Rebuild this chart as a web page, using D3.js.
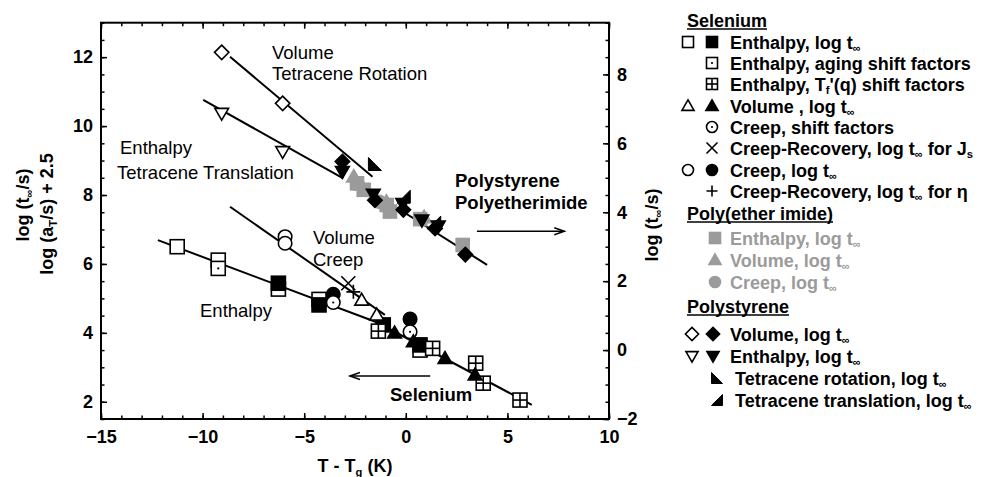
<!DOCTYPE html>
<html><head><meta charset="utf-8">
<script src="https://cdn.jsdelivr.net/npm/d3@7"></script>
<style>
body{margin:0;background:#fff}
svg{display:block}
text{font-family:"Liberation Sans",Arial,Helvetica,sans-serif}
</style>
</head><body>
<svg id="c" width="984" height="477"></svg>
<script>
// ---------- axes / ticks ----------
const xDomain = [-15, 10];
const yLeftDomain = [1.5, 13];
const yRightDomain = [-2, 9.5];
const xTicksMajor = [-15, -10, -5, 0, 5, 10];
const yLeftTicks = [2, 4, 6, 8, 10, 12];
const yRightTicks = [-2, 0, 2, 4, 6, 8];

// ---------- Selenium (left axis) ----------
const seEnthalpyOpen   = [[-11.25, 6.50], [-9.23, 6.11]];
const seEnthalpyAging  = [[-9.23, 5.87], [-6.27, 5.27], [-4.27, 4.97], [0.70, 3.50]];
const seEnthalpyFilled = [[-6.27, 5.44], [-4.27, 4.81], [-1.11, 4.23], [0.70, 3.65]];
const seEnthalpyTf     = [[-1.35, 4.05], [1.32, 3.55], [3.44, 3.12], [3.81, 2.54], [5.62, 2.05]];
const seVolumeOpen     = [[-2.17, 4.95], [-1.43, 4.52]];
const seVolumeFilled   = [[-0.55, 4.00], [0.37, 3.74], [1.93, 3.26], [3.41, 2.78]];
const seCreepShift     = [[-3.57, 4.88], [0.21, 4.03]];
const seCreepRecJ      = [[-2.83, 5.44]];
const seCreepOpen      = [[-5.94, 6.79], [-5.94, 6.60]];
const seCreepFilled    = [[-3.57, 5.12], [0.21, 4.40]];
const seCreepRecEta    = [[-2.58, 5.19]];
const seEnthalpyFit    = [[-12.2, 6.69], [-1.4, 4.30], [6.2, 1.91]];
const seVolumeCreepFit = [[-8.65, 7.66], [-1.03, 4.52]];

// ---------- Polystyrene / PEI (right axis) ----------
const psVolumeOpen     = [[-9.06, 8.64], [-6.06, 7.16]];
const psEnthalpyOpen   = [[-9.06, 6.87], [-6.06, 5.76]];
const peiEnthalpy      = [[-2.40, 4.84], [-2.07, 4.65], [-0.94, 4.21], [-0.78, 4.02], [0.71, 3.80], [2.80, 3.05]];
const peiVolume        = [[-2.56, 5.03], [-2.20, 4.80], [-0.95, 4.30], [0.90, 3.85]];
const peiCreep         = [[-1.30, 4.30]];
const psVolumeFilled   = [[-3.12, 5.47], [-1.52, 4.35], [-0.12, 4.07], [1.44, 3.53], [2.93, 2.77]];
const psEnthalpyFilled = [[-3.12, 5.18], [-1.60, 4.52], [-0.15, 4.25], [0.79, 3.77], [1.60, 3.60]];
const psRotation       = [[-1.52, 5.40]];
const psTranslation    = [[-0.10, 4.45], [1.40, 3.70]];
const psRotFit         = [[-8.65, 8.51], [-1.64, 5.03]];
const psTransFit       = [[-9.97, 7.26], [-3.08, 4.98]];
const psMainFit        = [[-2.50, 4.90], [4.00, 2.47]];

// arrows: [x0, x1, y]
const arrowRight = [3.5, 7.8, 3.45];   // right axis
const arrowLeft  = [1.2, -2.75, 2.75]; // left axis

const GRAY = "#9b9b9b";
const svg = d3.select("#c");
const M = {l: 101, r: 609, t: 22.7, b: 419};
const x = d3.scaleLinear().domain(xDomain).range([M.l, M.r]);
const yL = d3.scaleLinear().domain(yLeftDomain).range([M.b, M.t]);
const yR = d3.scaleLinear().domain(yRightDomain).range([M.b, M.t]);

// ---------- axes ----------
function styleAxis(g){ g.select(".domain").remove(); g.selectAll("line").attr("stroke","#000").attr("stroke-width",1.5);
  g.selectAll("text").attr("font-size",18).attr("font-weight","bold").attr("fill","#000").style("font-family",'"Liberation Sans",Arial,sans-serif'); }
const xMinor = d3.range(-15, 10.01, 1);
const yLMinor = d3.range(1.5, 13.01, 0.5);
const yRMinor = d3.range(-2, 9.51, 0.5);

svg.append("g").attr("transform",`translate(0,${M.b})`).call(d3.axisBottom(x).tickValues(xMinor).tickSize(-3.5).tickFormat("")).call(styleAxis);
svg.append("g").attr("transform",`translate(0,${M.b})`).call(d3.axisBottom(x).tickValues(xTicksMajor).tickSize(-6).tickPadding(11).tickFormat(d3.format("d"))).call(styleAxis);
svg.append("g").attr("transform",`translate(0,${M.t})`).call(d3.axisTop(x).tickValues(xMinor).tickSize(-3.5).tickFormat("")).call(styleAxis);
svg.append("g").attr("transform",`translate(0,${M.t})`).call(d3.axisTop(x).tickValues(xTicksMajor).tickSize(-6).tickFormat("")).call(styleAxis);
svg.append("g").attr("transform",`translate(${M.l},0)`).call(d3.axisLeft(yL).tickValues(yLMinor).tickSize(-3.5).tickFormat("")).call(styleAxis);
svg.append("g").attr("transform",`translate(${M.l},0)`).call(d3.axisLeft(yL).tickValues(yLeftTicks).tickSize(-6).tickPadding(8).tickFormat(d3.format("d"))).call(styleAxis);
svg.append("g").attr("transform",`translate(${M.r},0)`).call(d3.axisRight(yR).tickValues(yRMinor).tickSize(-3.5).tickFormat("")).call(styleAxis);
svg.append("g").attr("transform",`translate(${M.r},0)`).call(d3.axisRight(yR).tickValues(yRightTicks).tickSize(-6).tickPadding(8).tickFormat(d3.format("d"))).call(styleAxis);

svg.append("rect").attr("x",M.l).attr("y",M.t).attr("width",M.r-M.l).attr("height",M.b-M.t)
  .attr("fill","none").attr("stroke","#000").attr("stroke-width",2);

// ---------- rich text helper ----------
function rich(t, parts, fs){
  parts.forEach(p=>{
    const s = typeof p === "string" ? {t:p} : p;
    const ts = t.append("tspan").text(s.t);
    if (s.sub){ ts.attr("font-size", fs*0.62).attr("dy", fs*0.22); }
    if (s.back){ ts.attr("dy", -fs*0.22); }
  });
  return t;
}

// ---------- symbols ----------
function sym(g, type, cx, cy, s, color, filled){
  const sw = 1.6, h = s/2;
  const fill = filled ? color : "#fff";
  switch(type){
    case "square": case "dotSquare": case "gridSquare":
      g.append("rect").attr("x",cx-h).attr("y",cy-h).attr("width",s).attr("height",s)
        .attr("fill",fill).attr("stroke",color).attr("stroke-width",sw);
      if (type==="dotSquare") g.append("circle").attr("cx",cx).attr("cy",cy).attr("r",1.1).attr("fill",color);
      if (type==="gridSquare"){
        g.append("line").attr("x1",cx).attr("x2",cx).attr("y1",cy-h).attr("y2",cy+h).attr("stroke",color).attr("stroke-width",sw);
        g.append("line").attr("x1",cx-h).attr("x2",cx+h).attr("y1",cy).attr("y2",cy).attr("stroke",color).attr("stroke-width",sw);
      }
      break;
    case "circle": case "dotCircle":
      g.append("circle").attr("cx",cx).attr("cy",cy).attr("r",h).attr("fill",fill).attr("stroke",color).attr("stroke-width",sw);
      if (type==="dotCircle") g.append("circle").attr("cx",cx).attr("cy",cy).attr("r",1.1).attr("fill",color);
      break;
    case "triUp":
      g.append("polygon").attr("points",[[cx,cy-h*1.1],[cx-h*1.1,cy+h*0.8],[cx+h*1.1,cy+h*0.8]].join(" "))
        .attr("fill",fill).attr("stroke",color).attr("stroke-width",sw).attr("stroke-linejoin","miter");
      break;
    case "triDown":
      g.append("polygon").attr("points",[[cx,cy+h*1.1],[cx-h*1.1,cy-h*0.8],[cx+h*1.1,cy-h*0.8]].join(" "))
        .attr("fill",fill).attr("stroke",color).attr("stroke-width",sw);
      break;
    case "diamond":
      g.append("polygon").attr("points",[[cx,cy-h*1.2],[cx+h*1.2,cy],[cx,cy+h*1.2],[cx-h*1.2,cy]].join(" "))
        .attr("fill",fill).attr("stroke",color).attr("stroke-width",sw);
      break;
    case "rot":
      g.append("polygon").attr("points",[[cx-h,cy-h],[cx-h,cy+h],[cx+h,cy+h]].join(" ")).attr("fill",color).attr("stroke",color).attr("stroke-width",1);
      break;
    case "trans":
      g.append("polygon").attr("points",[[cx+h,cy-h],[cx+h,cy+h],[cx-h,cy+h]].join(" ")).attr("fill",color).attr("stroke",color).attr("stroke-width",1);
      break;
    case "x":
      g.append("path").attr("d",`M${cx-h},${cy-h}L${cx+h},${cy+h}M${cx+h},${cy-h}L${cx-h},${cy+h}`).attr("stroke",color).attr("stroke-width",1.6).attr("fill","none");
      break;
    case "plus":
      g.append("path").attr("d",`M${cx-h},${cy}L${cx+h},${cy}M${cx},${cy-h}L${cx},${cy+h}`).attr("stroke",color).attr("stroke-width",1.6).attr("fill","none");
      break;
  }
}

// ---------- fit lines ----------
const plot = svg.append("g");
const lineL = d3.line().x(d=>x(d[0])).y(d=>yL(d[1]));
const lineR = d3.line().x(d=>x(d[0])).y(d=>yR(d[1]));
[seEnthalpyFit, seVolumeCreepFit].forEach(d=>plot.append("path").attr("d",lineL(d)).attr("fill","none").attr("stroke","#000").attr("stroke-width",2));
[psRotFit, psTransFit, psMainFit].forEach(d=>plot.append("path").attr("d",lineR(d)).attr("fill","none").attr("stroke","#000").attr("stroke-width",2));

// ---------- markers ----------
function series(data, ys, type, size, color, filled){
  data.forEach(d=>sym(plot, type, x(d[0]), ys(d[1]), size, color, filled));
}
// Polystyrene / PEI
series(psVolumeOpen, yR, "diamond", 12, "#000", false);
series(psEnthalpyOpen, yR, "triDown", 12.5, "#000", false);
series(peiEnthalpy, yR, "square", 13, GRAY, true);
series(peiVolume, yR, "triUp", 13, GRAY, true);
series(peiCreep, yR, "circle", 13, GRAY, true);
series(psEnthalpyFilled, yR, "triDown", 12.5, "#000", true);
series(psVolumeFilled, yR, "diamond", 12, "#000", true);
series(psTranslation, yR, "trans", 13, "#000", true);
series(psRotation, yR, "rot", 13, "#000", true);
// Selenium
series(seEnthalpyOpen, yL, "square", 14, "#000", false);
series(seEnthalpyAging, yL, "dotSquare", 14, "#000", false);
series(seEnthalpyFilled, yL, "square", 14, "#000", true);
series(seEnthalpyTf, yL, "gridSquare", 14, "#000", false);
series(seCreepOpen, yL, "circle", 13.5, "#000", false);
series(seCreepFilled, yL, "circle", 13.5, "#000", true);
series(seCreepShift, yL, "dotCircle", 13.5, "#000", false);
series(seVolumeOpen, yL, "triUp", 12.5, "#000", false);
series(seVolumeFilled, yL, "triUp", 12.5, "#000", true);
series(seCreepRecJ, yL, "x", 14, "#000", false);
series(seCreepRecEta, yL, "plus", 14, "#000", false);

// ---------- arrows ----------
function arrow(x0, x1, py){
  const dir = Math.sign(x1-x0);
  plot.append("line").attr("x1",x0).attr("x2",x1).attr("y1",py).attr("y2",py).attr("stroke","#000").attr("stroke-width",1.5);
  plot.append("path").attr("d",`M${x1-dir*10},${py-3.5}L${x1},${py}L${x1-dir*10},${py+3.5}`).attr("fill","none").attr("stroke","#000").attr("stroke-width",1.5);
}
arrow(x(arrowRight[0]), x(arrowRight[1]), yR(arrowRight[2]));
arrow(x(arrowLeft[0]), x(arrowLeft[1]), yL(arrowLeft[2]));

// ---------- annotations ----------
const ann = [
  {t:"Volume", x:272, y:59}, {t:"Tetracene Rotation", x:272, y:80},
  {t:"Enthalpy", x:120, y:154}, {t:"Tetracene Translation", x:117, y:179},
  {t:"Volume", x:313, y:244}, {t:"Creep", x:313, y:266},
  {t:"Enthalpy", x:200, y:317},
  {t:"Polystyrene", x:455, y:187, b:true}, {t:"Polyetherimide", x:455, y:209, b:true},
  {t:"Selenium", x:390, y:401, b:true}
];
ann.forEach(a=>svg.append("text").attr("x",a.x).attr("y",a.y).attr("font-size",18.5)
  .attr("font-weight",a.b?"bold":"normal").attr("fill","#000").text(a.t));

// ---------- axis titles ----------
rich(svg.append("text").attr("x",355).attr("y",472).attr("text-anchor","middle").attr("font-size",18).attr("font-weight","bold"),
  ["T - T", {t:"g",sub:true}, {t:" (K)",back:true}], 18);
rich(svg.append("text").attr("transform","translate(29,205) rotate(-90)").attr("text-anchor","middle").attr("font-size",18).attr("font-weight","bold"),
  ["log (t", {t:"\u221E",sub:true}, {t:"/s)",back:true}], 18);
rich(svg.append("text").attr("transform","translate(53,214) rotate(-90)").attr("text-anchor","middle").attr("font-size",18).attr("font-weight","bold"),
  ["log (a", {t:"T",sub:true}, {t:"/s) + 2.5",back:true}], 18);
rich(svg.append("text").attr("transform","translate(658,225) rotate(-90)").attr("text-anchor","middle").attr("font-size",18).attr("font-weight","bold"),
  ["log (t", {t:"\u221E",sub:true}, {t:"/s)",back:true}], 18);

// ---------- legend ----------
const INF = {t:"\u221E", sub:true};
const legendHeaders = [
  {t:"Selenium", y:20}, {t:"Poly(ether imide)", y:213}, {t:"Polystyrene", y:306}
];
const legendRows = [
  {y:42,  syms:[["square",false,688],["square",true,712]], parts:["Enthalpy, log t", INF]},
  {y:63,  syms:[["dotSquare",false,712]], parts:["Enthalpy, aging shift factors"]},
  {y:84,  syms:[["gridSquare",false,712]], parts:["Enthalpy, T", {t:"f",sub:true}, {t:"'(q) shift factors",back:true}]},
  {y:106, syms:[["triUp",false,688],["triUp",true,712]], parts:["Volume , log t", INF]},
  {y:127, syms:[["dotCircle",false,712]], parts:["Creep, shift factors"]},
  {y:148, syms:[["x",false,712]], parts:["Creep-Recovery, log t", INF, {t:" for J",back:true}, {t:"s",sub:true}]},
  {y:170, syms:[["circle",false,688],["circle",true,712]], parts:["Creep, log t", INF]},
  {y:191, syms:[["plus",false,712]], parts:["Creep-Recovery, log t", INF, {t:" for \u03B7",back:true}]},
  {y:238, syms:[["square",true,715]], parts:["Enthalpy, log t", INF], c:GRAY},
  {y:260, syms:[["triUp",true,715]], parts:["Volume, log t", INF], c:GRAY},
  {y:282, syms:[["circle",true,715]], parts:["Creep, log t", INF], c:GRAY},
  {y:334, syms:[["diamond",false,692],["diamond",true,713]], parts:["Volume, log t", INF]},
  {y:356, syms:[["triDown",false,692],["triDown",true,713]], parts:["Enthalpy, log t", INF]},
  {y:378, syms:[["rot",true,717]], parts:["Tetracene rotation, log t", INF], tx:735},
  {y:400, syms:[["trans",true,717]], parts:["Tetracene translation, log t", INF], tx:735}
];
const LFS = 18;
const leg = svg.append("g");
legendHeaders.forEach(h=>{
  const t = leg.append("text").attr("x",687).attr("y",h.y+6.5).attr("font-size",LFS).attr("font-weight","bold").text(h.t);
  const w = t.node().getComputedTextLength();
  leg.append("line").attr("x1",687).attr("x2",687+w).attr("y1",h.y+9).attr("y2",h.y+9).attr("stroke","#000").attr("stroke-width",1.6);
});
legendRows.forEach(r=>{
  const c = r.c || "#000";
  r.syms.forEach(s=>sym(leg, s[0], s[2], r.y, 11, c, s[1]));
  rich(leg.append("text").attr("x",r.tx||730).attr("y",r.y+6.5).attr("font-size",LFS).attr("font-weight","bold").attr("fill",c), r.parts, LFS);
});
</script>
</body></html>
